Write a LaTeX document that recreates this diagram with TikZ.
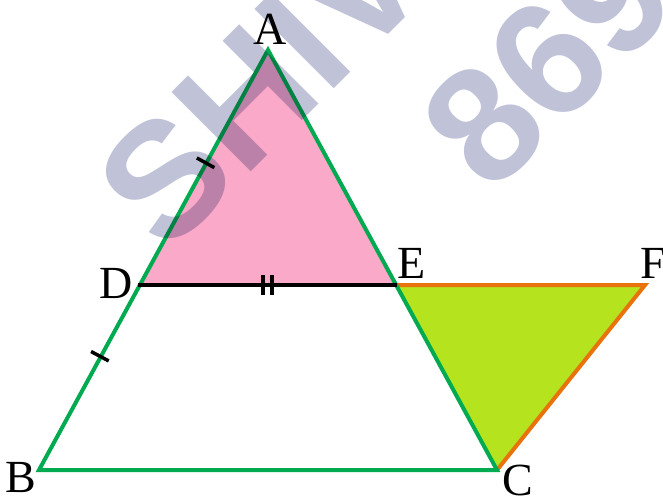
\documentclass[tikz,border=0pt]{standalone}
\usepackage{fontspec}
\setmainfont{Liberation Serif}
\newfontfamily\wmfont{Liberation Sans}
\usetikzlibrary{calc}
\definecolor{pinkfill}{HTML}{FBA9C8}
\definecolor{limefill}{HTML}{B5E41E}
\definecolor{edgegreen}{HTML}{00AA50}
\definecolor{edgeorange}{HTML}{E8720C}
\definecolor{wmcol}{HTML}{C0C3D8}
\tikzset{
  greenedge/.style={draw=edgegreen, line width=4pt, line join=miter},
  orangeedge/.style={draw=edgeorange, line width=4pt},
  midline/.style={draw=black, line width=4pt},
  tickmark/.style={draw=black, line width=3.5pt},
  ptlabel/.style={inner sep=0pt, font=\fontsize{46}{46}\selectfont},
  wmtext/.style={inner sep=0pt, text=wmcol, rotate=45, font=\wmfont\bfseries\fontsize{163}{163}\selectfont}
}
\begin{document}
\begin{tikzpicture}[x=1pt,y=-1pt]
\useasboundingbox (0,0) rectangle (663,497);
\coordinate (A) at (268,50);
\coordinate (B) at (39,470);
\coordinate (C) at (497,470);
\coordinate (D) at (138,285);
\coordinate (E) at (397,285);
\coordinate (F) at (645,285);
% fills
\fill[pinkfill] (A) -- (D) -- (E) -- cycle;
\fill[limefill] (E) -- (F) -- (C) -- cycle;
% edges
\draw[orangeedge] (E) -- (F) -- (C);
\draw[greenedge] (A) -- (B) -- (C) -- cycle;
\draw[midline] (D) -- (E);
% tick marks
\coordinate (tAD) at ($(A)!0.48!(D)$);
\coordinate (tDB) at ($(D)!0.385!(B)$);
\coordinate (tDE1) at ($(D)!0.483!(E)$);
\coordinate (tDE2) at ($(D)!0.517!(E)$);
\draw[tickmark] ($(tAD)!10pt!90:(D)$) -- ($(tAD)!10pt!-90:(D)$);
\draw[tickmark] ($(tDB)!10pt!90:(B)$) -- ($(tDB)!10pt!-90:(B)$);
\draw[tickmark] ($(tDE1)!10pt!90:(E)$) -- ($(tDE1)!10pt!-90:(E)$);
\draw[tickmark] ($(tDE2)!10pt!90:(E)$) -- ($(tDE2)!10pt!-90:(E)$);
% labels
\node[ptlabel] (lA) at (270,29) {A};
\node[ptlabel] (lB) at (21,478) {B};
\node[ptlabel] (lC) at (518,480) {C};
\node[ptlabel] (lD) at (116,283) {D};
\node[ptlabel] (lE) at (412,263) {E};
\node[ptlabel] (lF) at (653,263) {F};
% watermark
\begin{scope}[blend mode=multiply]
\clip (0,0) rectangle (663,497);
\node[wmtext] (wm1) at (261,82) {SHIV};
\node[wmtext] (wm2) at (548,61) {869};
\end{scope}
\end{tikzpicture}
\end{document}
